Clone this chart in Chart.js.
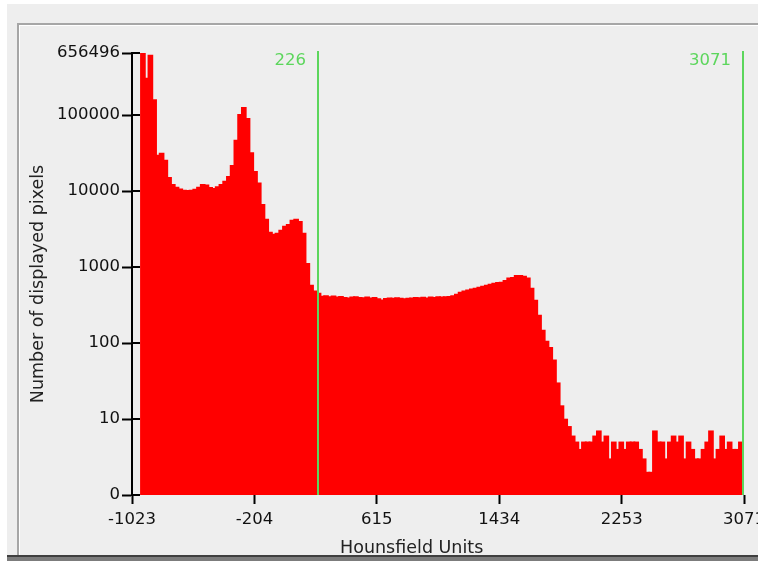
<!DOCTYPE html>
<html>
<head>
<meta charset="utf-8">
<script src="https://cdn.jsdelivr.net/npm/chart.js@4.4.0/dist/chart.umd.min.js"></script>
<style>
  html, body { margin: 0; padding: 0; }
  body { width: 758px; height: 561px; overflow: hidden; position: relative; background: #ffffff; }
  #frame { position: absolute; left: 7px; top: 4px; width: 800px; height: 551px; background: #eeeeee; }
  #panel { position: absolute; left: 17px; top: 23px; width: 800px; height: 540px;
           border-top: 2px solid #a6a6a6; border-left: 2px solid #a6a6a6; box-shadow: inset 1px 1px 0 #ffffff; }
  #barDark { position: absolute; left: 7px; top: 555px; width: 800px; height: 2px; background: #3f3f3f; }
  #barLight { position: absolute; left: 7px; top: 557px; width: 800px; height: 4px; background: #7c7c7c; }
  #wrap { position: absolute; left: 0; top: 0; width: 780px; height: 561px; }
</style>
</head>
<body>
<div id="frame"></div>
<div id="panel"></div>
<div id="barDark"></div>
<div id="barLight"></div>
<div id="wrap"><canvas id="histo" width="780" height="561"></canvas></div>
<script>
// histogram bins (Hounsfield units), one count per bin
const binStartHU = -950;
const binWidthHU = 25;
const pixelCounts = [
  656496, 307000, 617000, 160000, 29800, 31600, 25600, 15200, 12300, 11300,
  10700, 10300, 10200, 10300, 10600, 11300, 12300, 12100, 11200, 10900,
  11500, 12300, 13500, 15600, 21900, 47000, 102000, 127000, 91000, 32000,
  18200, 12800, 6700, 4270, 2880, 2720, 2800, 3070, 3470, 3650,
  4150, 4270, 4000, 2800, 1120, 580, 485, 455, 415, 420,
  410, 418, 405, 412, 400, 395, 405, 410, 400, 398,
  405, 395, 400, 385, 370, 388, 395, 392, 398, 390,
  385, 392, 395, 400, 398, 402, 395, 405, 400, 408,
  405, 410, 412, 420, 440, 468, 485, 500, 515, 530,
  545, 560, 580, 595, 615, 630, 635, 670, 720, 735,
  780, 780, 760, 720, 530, 368, 233, 148, 106, 88,
  60, 30, 15, 10, 8, 6, 5, 4, 5, 5,
  5, 6, 7, 5, 6, 3, 5, 4, 5, 4,
  5, 5, 5, 4, 3, 2, 2, 7, 5, 5,
  3, 5, 6, 5, 6, 3, 5, 4, 3, 3,
  4, 5, 7, 3, 4, 6, 4, 5, 4, 4,
  5
];
const xTickValues = [-1023, -204, 615, 1434, 2253, 3071];
const yTickValues = [1, 10, 100, 1000, 10000, 100000, 656496];
const windowLevels = [226, 3071];
const xAxisTitle = 'Hounsfield Units';
const yAxisTitle = 'Number of displayed pixels';

const GREEN = 'rgb(92, 214, 92)';
const TICK_FONT = { family: 'DejaVu Sans', size: 16.5 };

const points = pixelCounts.map((c, i) => ({ x: binStartHU + i * binWidthHU, y: c }));

// inner tick stubs, window level lines, axis titles
const overlay = {
  id: 'overlay',
  afterDatasetsDraw(chart) {
    const { ctx, chartArea, scales } = chart;
    ctx.save();

    ctx.strokeStyle = '#000';
    ctx.lineWidth = 2;
    scales.y.ticks.forEach(t => {
      const y = Math.round(scales.y.getPixelForValue(t.value));
      ctx.beginPath();
      ctx.moveTo(chartArea.left, y);
      ctx.lineTo(chartArea.left + 8, y);
      ctx.stroke();
    });

    ctx.strokeStyle = GREEN;
    ctx.fillStyle = GREEN;
    ctx.font = '16.5px "DejaVu Sans"';
    ctx.textAlign = 'right';
    ctx.textBaseline = 'middle';
    windowLevels.forEach(v => {
      const x = Math.round(scales.x.getPixelForValue(v)) - 1;
      ctx.beginPath();
      ctx.moveTo(x, chartArea.top - 2);
      ctx.lineTo(x, chartArea.bottom);
      ctx.stroke();
      ctx.fillText(String(v), x - 12, chartArea.top + 8);
    });

    ctx.fillStyle = '#222';
    ctx.font = '17.5px "DejaVu Sans"';
    ctx.textAlign = 'center';
    ctx.fillText(xAxisTitle, chartArea.left + chartArea.width * 0.457, 548);
    ctx.translate(38, 284);
    ctx.rotate(-Math.PI / 2);
    ctx.fillText(yAxisTitle, 0, 0);

    ctx.restore();
  }
};

new Chart(document.getElementById('histo'), {
  type: 'bar',
  data: {
    datasets: [{
      data: points,
      backgroundColor: '#ff0000',
      borderWidth: 0,
      barThickness: 5
    }]
  },
  options: {
    responsive: false,
    animation: false,
    layout: { padding: { left: 52, top: 53, right: 36, bottom: 26 } },
    plugins: { legend: { display: false }, tooltip: { enabled: false } },
    scales: {
      x: {
        type: 'linear',
        min: -1023,
        max: 3071,
        offset: false,
        afterBuildTicks: s => { s.ticks = xTickValues.map(v => ({ value: v })); },
        afterFit: s => { s.height = 40; },
        ticks: { callback: v => String(v), autoSkip: false, maxRotation: 0, padding: 6, color: '#111', font: TICK_FONT },
        grid: { display: true, offset: false, drawOnChartArea: false, drawTicks: true, tickLength: 9, tickWidth: 2, tickColor: '#000' },
        border: { display: false }
      },
      y: {
        type: 'logarithmic',
        min: 1,
        max: 656496,
        afterBuildTicks: s => { s.ticks = yTickValues.map(v => ({ value: v })); },
        afterFit: s => { s.width = 80; },
        ticks: { callback: v => (v === 1 ? '0' : String(v)), autoSkip: false, padding: 2, color: '#111', font: TICK_FONT },
        grid: { display: true, drawOnChartArea: false, drawTicks: true, tickLength: 10, tickWidth: 2, tickColor: '#000' },
        border: { display: true, color: '#000', width: 2 }
      }
    }
  },
  plugins: [overlay]
});
</script>
</body>
</html>
